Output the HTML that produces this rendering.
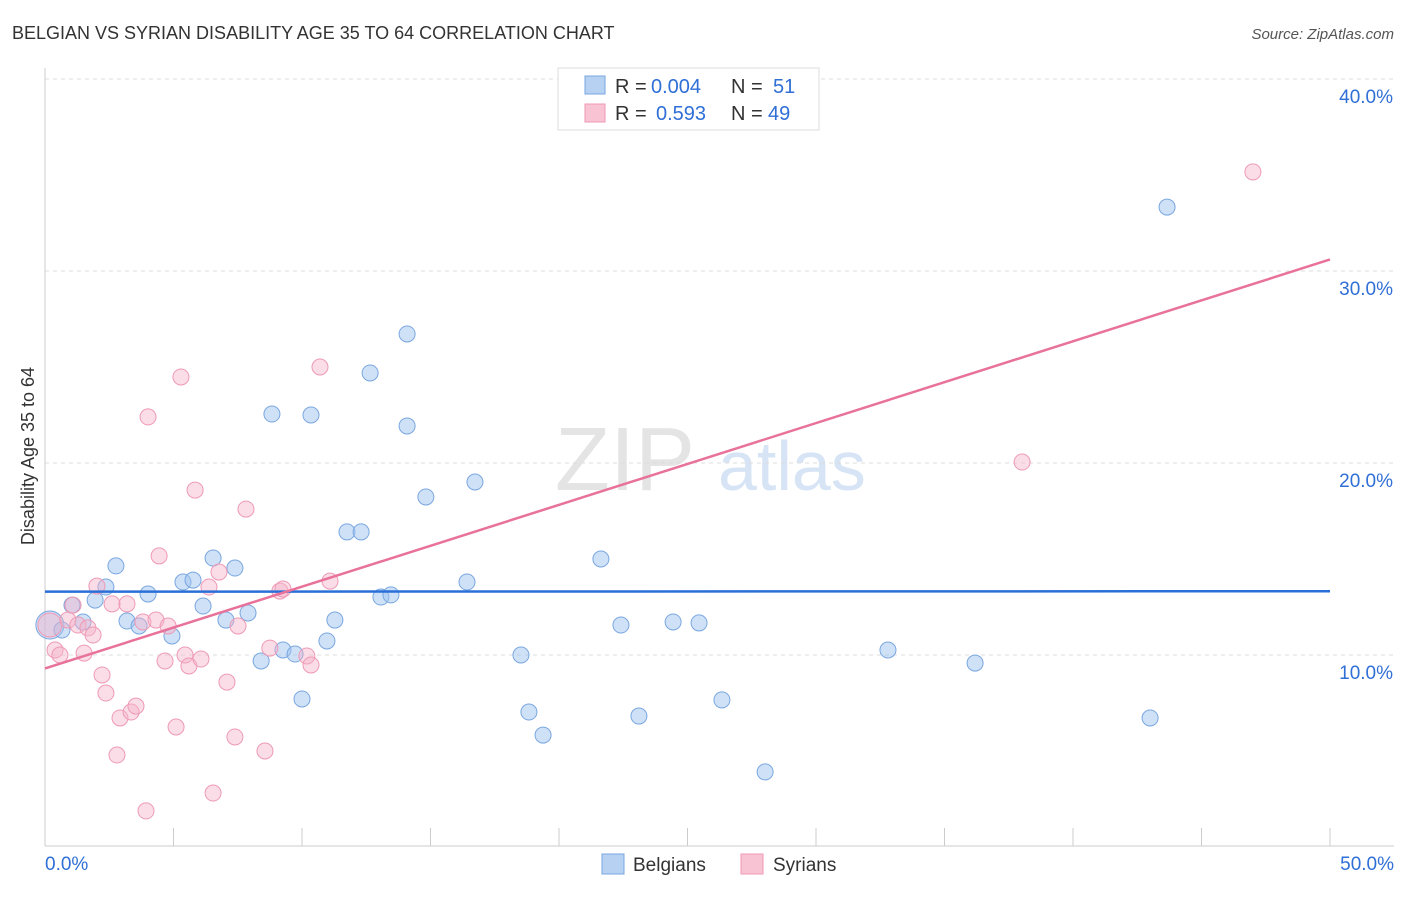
<!DOCTYPE html>
<html><head><meta charset="utf-8"><style>
body{margin:0;background:#fff;font-family:"Liberation Sans",sans-serif;}
svg text{font-family:"Liberation Sans",sans-serif;}
</style></head><body>
<svg id="chart" width="1406" height="892" xmlns="http://www.w3.org/2000/svg">
<text x="12" y="39" font-size="18" fill="#333">BELGIAN VS SYRIAN DISABILITY AGE 35 TO 64 CORRELATION CHART</text>
<text x="1394" y="39" font-size="15" fill="#555" text-anchor="end" font-style="italic">Source: ZipAtlas.com</text>
<text x="34" y="456" font-size="18" fill="#333" text-anchor="middle" transform="rotate(-90 34 456)">Disability Age 35 to 64</text>
<text x="555" y="490" font-size="90" fill="#e4e4e4" font-family="Liberation Serif">ZIP</text>
<text x="718" y="490" font-size="70" fill="#d6e4f5">atlas</text>
<g id="grid"></g><g id="axes"></g><g id="pts"></g><g id="lines"></g>
<g>
<rect x="558" y="68" width="261" height="62" fill="#fff" stroke="#ddd"/>
<rect x="585" y="76" width="20" height="18" fill="#b7d1f3" stroke="#7aa7e0"/>
<rect x="585" y="104" width="20" height="18" fill="#f8c3d3" stroke="#ef9ab5"/>
<text x="615" y="93" font-size="20" fill="#333">R =</text>
<text x="651" y="93" font-size="20" fill="#2f6fd6">0.004</text>
<text x="731" y="93" font-size="20" fill="#333">N =</text>
<text x="773" y="93" font-size="20" fill="#2f6fd6">51</text>
<text x="615" y="120" font-size="20" fill="#333">R =</text>
<text x="656" y="120" font-size="20" fill="#2f6fd6">0.593</text>
<text x="731" y="120" font-size="20" fill="#333">N =</text>
<text x="768" y="120" font-size="20" fill="#2f6fd6">49</text>
</g>
<g>
<rect x="602" y="854" width="22" height="20" fill="#b7d1f3" stroke="#7aa7e0"/>
<text x="633" y="871" font-size="19" fill="#333">Belgians</text>
<rect x="741" y="854" width="22" height="20" fill="#f8c3d3" stroke="#ef9ab5"/>
<text x="773" y="871" font-size="19" fill="#333">Syrians</text>
</g>
</svg>
<script>
const yTicks=[10,20,30,40];
const yTickLabels=["10.0%","20.0%","30.0%","40.0%"];
const xTicks=[0,5,10,15,20,25,30,35,40,45,50];
const blueX=[0.19,0.66,1.05,1.48,1.95,2.37,2.76,3.19,3.66,4.01,4.94,5.37,5.76,6.15,6.54,7.04,7.39,7.90,8.41,8.83,9.26,9.73,10.0,10.35,10.97,11.28,11.75,12.30,12.65,13.07,13.46,14.09,14.09,14.82,16.42,16.73,18.52,18.83,19.38,21.63,22.41,23.11,24.44,25.45,26.34,28.02,32.8,36.19,43.0,43.66];
const blueY=[11.56,11.30,12.6,11.72,12.86,13.54,14.64,11.77,11.51,13.18,10.99,13.8,13.9,12.55,15.05,11.82,14.53,12.19,9.69,22.55,10.26,10.05,7.71,22.5,10.73,11.82,16.41,16.41,24.69,13.02,13.13,26.72,21.93,18.23,13.8,19.01,10.0,7.03,5.83,15.0,11.56,6.82,11.72,11.67,7.66,3.91,10.26,9.58,6.72,33.33];
const pinkX=[0.19,0.39,0.58,0.89,1.09,1.28,1.52,1.67,1.87,2.02,2.22,2.37,2.61,2.80,2.92,3.19,3.35,3.54,3.81,3.93,4.01,4.32,4.44,4.67,4.79,5.10,5.29,5.45,5.60,5.84,6.07,6.38,6.54,6.77,7.08,7.39,7.51,7.82,8.56,8.75,9.14,9.26,10.19,10.35,10.7,11.09,38.02,47.0];
const pinkY=[11.56,10.26,10.0,11.82,12.6,11.56,10.1,11.41,11.04,13.59,8.96,8.02,12.66,4.79,6.72,12.66,7.03,7.34,11.72,1.88,22.4,11.82,15.16,9.69,11.51,6.25,24.48,10.0,9.43,18.59,9.79,13.54,2.81,14.32,8.59,5.73,11.51,17.6,5.0,10.36,13.33,13.44,9.95,9.48,25.0,13.85,20.05,35.16];
const blueLine=[13.3,13.32];
const pinkLine=[9.3,30.6];
const sx=v=>45+v*25.7, sy=v=>847-v*19.2;
const NS="http://www.w3.org/2000/svg";
function mk(par,tag,a){const e=document.createElementNS(NS,tag);for(const k in a)e.setAttribute(k,a[k]);document.getElementById(par).appendChild(e);return e;}
yTicks.forEach((t,i)=>{
 const l=mk('grid','line',{x1:45,x2:1394,y1:sy(t),y2:sy(t),stroke:'#ddd','stroke-dasharray':'4,4'});
 
 
 const tx=mk('grid','text',{x:1393,y:sy(t)+24,'font-size':19,fill:'#2f6fd6','text-anchor':'end'});
 tx.textContent=yTickLabels[i];
 
 
});
const ax=mk('axes','line',{x1:45,x2:45,y1:68,y2:846,stroke:'#ccc'});


const bx=mk('axes','line',{x1:45,x2:1394,y1:846,y2:846,stroke:'#ccc'});


xTicks.forEach(t=>{
 const l=mk('axes','line',{x1:sx(t),x2:sx(t),y1:828,y2:846,stroke:'#ccc'});
 
 
});
const x0=mk('axes','text',{x:45,y:870,'font-size':19,fill:'#2f6fd6'});x0.textContent='0.0%';


const x1=mk('axes','text',{x:1394,y:870,'font-size':19,fill:'#2f6fd6','text-anchor':'end'});x1.textContent='50.0%';


blueX.forEach((v,i)=>{
 const c=mk('pts','circle',{cx:sx(v),cy:sy(blueY[i]),r:i==0?14:8,fill:'rgba(160,195,240,0.5)',stroke:'#7aa7e0','stroke-width':1});
 
 
});
pinkX.forEach((v,i)=>{
 const c=mk('pts','circle',{cx:sx(v),cy:sy(pinkY[i]),r:i==0?12:8,fill:'rgba(245,180,202,0.45)',stroke:'#ef9ab5','stroke-width':1});
 
 
});
const bl=mk('lines','line',{x1:sx(0),x2:sx(50),y1:sy(blueLine[0]),y2:sy(blueLine[1]),stroke:'#2a6fd8','stroke-width':2.5});


const pl=mk('lines','line',{x1:sx(0),x2:sx(50),y1:sy(pinkLine[0]),y2:sy(pinkLine[1]),stroke:'#e8729a','stroke-width':2.5});


</script>
</body></html>
